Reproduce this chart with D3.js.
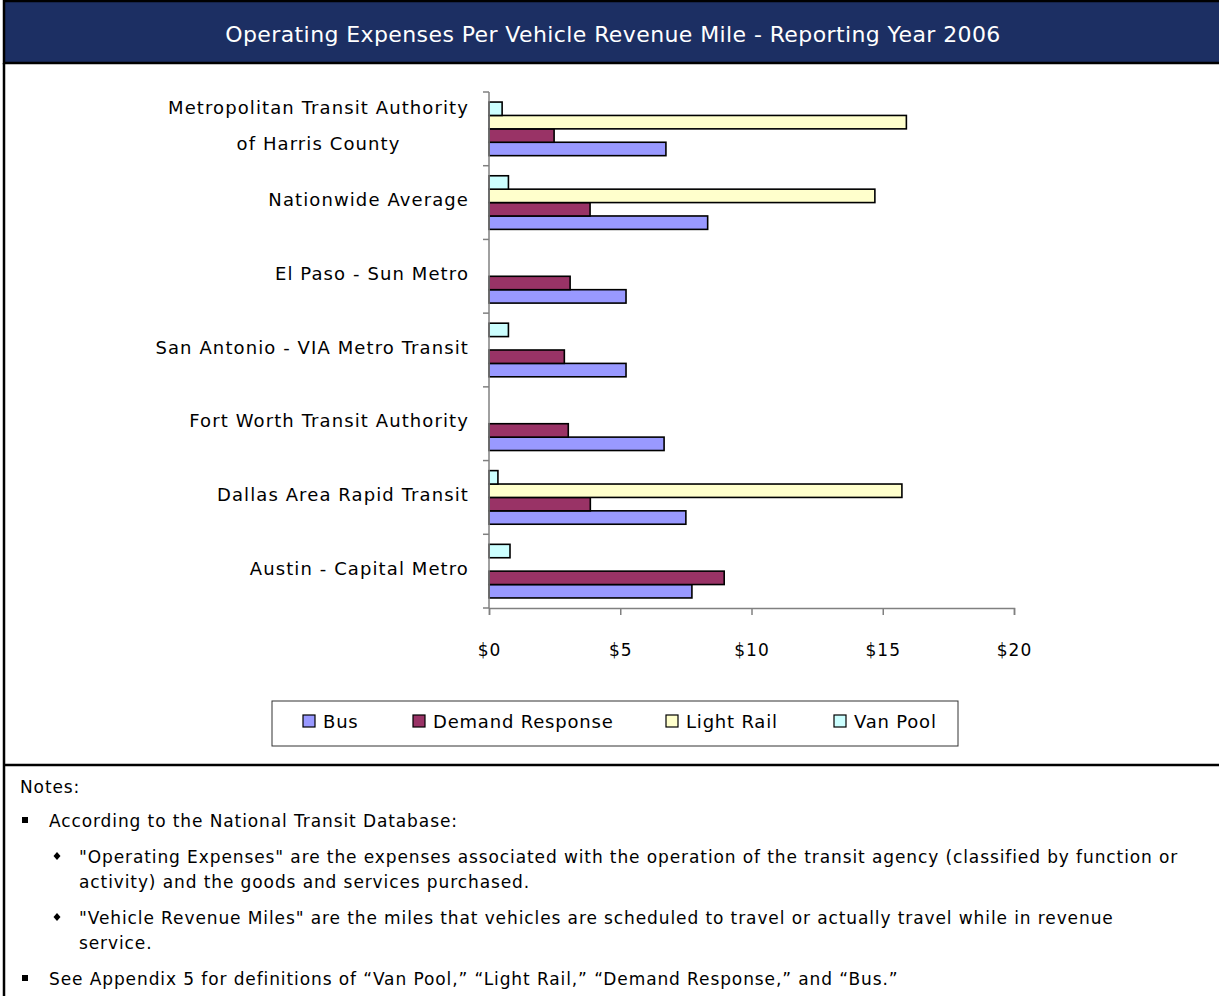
<!DOCTYPE html>
<html>
<head>
<meta charset="utf-8">
<script src="https://cdn.jsdelivr.net/npm/d3@7"></script>
<style>
    body { margin: 0; background: #fff; }
    svg { display: block; font-family: 'DejaVu Sans', sans-serif; }
</style>
</head>
<body>
<svg></svg>
<script>
const CATEGORIES = [
    ['Metropolitan Transit Authority', 'of Harris County'],
    ['Nationwide Average'],
    ['El Paso - Sun Metro'],
    ['San Antonio - VIA Metro Transit'],
    ['Fort Worth Transit Authority'],
    ['Dallas Area Rapid Transit'],
    ['Austin - Capital Metro'],
];
const SERIES = ['Bus', 'Demand Response', 'Light Rail', 'Van Pool'];
const BUS = [6.74, 8.33, 5.22, 5.22, 6.67, 7.5, 7.73];
const DEMAND_RESPONSE = [2.48, 3.85, 3.09, 2.87, 3.02, 3.86, 8.96];
const LIGHT_RAIL = [15.9, 14.7, null, null, null, 15.73, null];
const VAN_POOL = [0.5, 0.74, null, 0.74, null, 0.34, 0.8];
const TICKS = [0, 5, 10, 15, 20];
const COLORS = ['#9999ff', '#993366', '#ffffcc', '#ccffff'];

const TITLE = 'Operating Expenses Per Vehicle Revenue Mile - Reporting Year 2006';

const WIDTH = 1219;
const HEIGHT = 996;
const PLOT = { left: 489, right: 1014, top: 92, bottom: 608 };

const seriesValues = [BUS, DEMAND_RESPONSE, LIGHT_RAIL, VAN_POOL];
const rows = [];
CATEGORIES.forEach((c, i) => {
    SERIES.forEach((s, j) => {
        if (seriesValues[j][i] != null) rows.push({ cat: i, series: s, idx: j, value: seriesValues[j][i] });
    });
});

const svg = d3.select('svg').attr('width', WIDTH).attr('height', HEIGHT);

// frame
svg.append('rect').attr('x', 4).attr('y', 1).attr('width', WIDTH + 10).attr('height', 62)
    .attr('fill', '#1c2f63').attr('stroke', '#000').attr('stroke-width', 2.5);
svg.append('text').attr('x', 613).attr('y', 34).attr('text-anchor', 'middle')
    .attr('dominant-baseline', 'central').attr('fill', '#fff').attr('font-size', 22)
    .attr('letter-spacing', 0.4)
    .text(TITLE);
svg.append('line').attr('x1', 4).attr('x2', 4).attr('y1', 63).attr('y2', HEIGHT)
    .attr('stroke', '#000').attr('stroke-width', 2.5);
svg.append('line').attr('x1', 4).attr('x2', WIDTH).attr('y1', 765).attr('y2', 765)
    .attr('stroke', '#000').attr('stroke-width', 2.5);

// scales
const x = d3.scaleLinear().domain([0, 20]).range([PLOT.left, PLOT.right]);
const y = d3.scaleBand().domain(d3.range(CATEGORIES.length)).range([PLOT.top, PLOT.bottom]).padding(0);
const ySub = d3.scaleBand().domain(SERIES.slice().reverse()).range([0, y.bandwidth()])
    .paddingInner(0).paddingOuter(0.75);

const chart = svg.append('g');

chart.selectAll('.bar')
    .data(rows)
    .enter()
    .append('rect')
    .classed('bar', true)
    .attr('x', x(0))
    .attr('y', (d) => y(d.cat) + ySub(d.series))
    .attr('width', (d) => x(d.value) - x(0))
    .attr('height', ySub.bandwidth())
    .attr('fill', (d) => COLORS[d.idx])
    .attr('stroke', '#000')
    .attr('stroke-width', 1.6);

// axes
const yAxis = chart.append('g');
yAxis.append('line').attr('x1', x(0)).attr('x2', x(0)).attr('y1', PLOT.top).attr('y2', PLOT.bottom)
    .attr('stroke', '#808080').attr('stroke-width', 1.5);
yAxis.selectAll('.ytick')
    .data(d3.range(CATEGORIES.length + 1))
    .enter()
    .append('line')
    .attr('x1', x(0) - 6).attr('x2', x(0))
    .attr('y1', (d) => PLOT.top + d * y.step()).attr('y2', (d) => PLOT.top + d * y.step())
    .attr('stroke', '#808080').attr('stroke-width', 1.5);

const labels = yAxis.selectAll('.ylabel')
    .data(CATEGORIES)
    .enter()
    .append('text')
    .classed('ylabel', true)
    .attr('font-size', 18)
    .attr('letter-spacing', 1.1)
    .attr('fill', '#000')
    .attr('text-anchor', 'middle');
labels.each(function (lines, i) {
    const t = d3.select(this);
    const cy = y(i) + y.bandwidth() / 2 - 3;
    lines.forEach((ln, k) => {
        t.append('tspan')
            .attr('y', cy + (k - (lines.length - 1) / 2) * 36)
            .attr('dominant-baseline', 'central')
            .text(ln);
    });
    let maxW = 0;
    t.selectAll('tspan').each(function () { maxW = Math.max(maxW, this.getComputedTextLength()); });
    t.selectAll('tspan').attr('x', 469 - maxW / 2);
});

const xAxis = chart.append('g')
    .attr('transform', `translate(0, ${PLOT.bottom})`)
    .call(d3.axisBottom(x).tickValues(TICKS).tickSize(7).tickPadding(29).tickFormat((d) => '$' + d));
xAxis.select('.domain').attr('stroke', '#808080').attr('stroke-width', 1.5);
xAxis.selectAll('.tick line').attr('stroke', '#808080').attr('stroke-width', 1.5);
xAxis.selectAll('.tick text').attr('font-size', 17).attr('fill', '#000')
    .attr('letter-spacing', 1)
    .attr('font-family', "'DejaVu Sans', sans-serif");

// legend
const legend = svg.append('g');
legend.append('rect').attr('x', 272).attr('y', 701).attr('width', 686).attr('height', 45)
    .attr('fill', '#fff').attr('stroke', '#333').attr('stroke-width', 1);
const legendX = [303, 413, 666, 834];
const items = legend.selectAll('.item')
    .data(SERIES)
    .enter()
    .append('g')
    .attr('transform', (d, i) => `translate(${legendX[i]}, 721)`);
items.append('rect').attr('x', 0).attr('y', -6).attr('width', 12).attr('height', 12)
    .attr('fill', (d, i) => COLORS[i]).attr('stroke', '#000').attr('stroke-width', 1.2);
items.append('text').attr('x', 20).attr('y', 0).attr('dominant-baseline', 'central')
    .attr('font-size', 18).attr('letter-spacing', 0.8).text((d) => d);

// notes
const NOTES = [
    { level: 0, lines: ['Notes:'], y: 787 },
    { level: 1, lines: ['According to the National Transit Database:'], y: 821 },
    { level: 2, lines: ['"Operating Expenses" are the expenses associated with the operation of the transit agency (classified by function or', 'activity) and the goods and services purchased.'], y: 857 },
    { level: 2, lines: ['"Vehicle Revenue Miles" are the miles that vehicles are scheduled to travel or actually travel while in revenue', 'service.'], y: 918 },
    { level: 1, lines: ['See Appendix 5 for definitions of \u201cVan Pool,\u201d \u201cLight Rail,\u201d \u201cDemand Response,\u201d and \u201cBus.\u201d'], y: 979 },
];
const notes = svg.append('g').attr('font-size', 17).attr('letter-spacing', 0.9).attr('fill', '#000');
NOTES.forEach((n) => {
    const tx = n.level === 0 ? 20 : n.level === 1 ? 49 : 79;
    n.lines.forEach((ln, k) => {
        notes.append('text').attr('x', tx).attr('y', n.y + k * 25)
            .attr('dominant-baseline', 'central').text(ln);
    });
    if (n.level === 1) {
        notes.append('rect').attr('x', 22).attr('y', n.y - 4).attr('width', 6).attr('height', 6).attr('fill', '#000');
    } else if (n.level === 2) {
        notes.append('path').attr('d', `M${57},${n.y - 5} l3.5,4 l-3.5,4 l-3.5,-4 z`).attr('fill', '#000');
    }
});
</script>
</body>
</html>
